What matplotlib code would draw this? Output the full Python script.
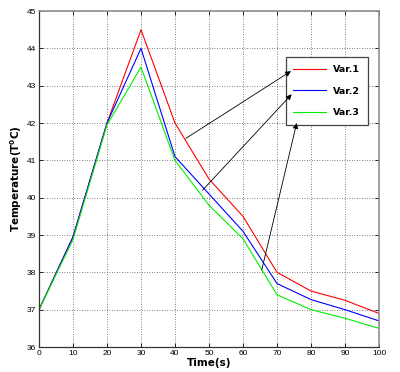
import matplotlib
matplotlib.use("Agg")
import matplotlib.pyplot as plt

time_s = [0, 10, 20, 30, 40, 50, 60, 70, 80, 90, 100]
var1 = [37.0, 38.95, 42.0, 44.5, 42.0, 40.5, 39.5, 38.0, 37.5, 37.25, 36.9]
var2 = [37.0, 38.95, 42.0, 44.0, 41.1, 40.1, 39.1, 37.7, 37.27, 37.0, 36.7]
var3 = [37.0, 38.88, 41.95, 43.5, 41.0, 39.8, 38.9, 37.4, 37.0, 36.77, 36.5]
labels = ["Var.1", "Var.2", "Var.3"]
colors = ["#ff0000", "#0000ff", "#00ee00"]

# arrow start points on the curves -> tips at the legend entries
arrow_from = [(43.2, 41.59), (48.1, 40.2), (65.5, 38.06)]
arrow_to = [(74.1, 43.39), (74.3, 42.77), (75.8, 42.0)]

fig = plt.figure(figsize=(4.0, 3.72), dpi=100)
ax = fig.add_axes([0.0975, 0.0672, 0.85, 0.903])

for y, c, lab in zip([var1, var2, var3], colors, labels):
    ax.plot(time_s, y, color=c, lw=0.8, label=lab)

ax.set_xlim(0, 100)
ax.set_ylim(36, 45)
ax.set_xticks(range(0, 101, 10))
ax.set_yticks(range(36, 46))
ax.tick_params(direction="in", length=3, width=0.6, labelsize=6,
               top=True, right=True, pad=2)
for lbl in ax.get_xticklabels() + ax.get_yticklabels():
    lbl.set_fontfamily("Liberation Sans")
ax.grid(True, ls=(0, (1, 2)), color="#555555", lw=0.6)
for side in ["top", "right"]:
    ax.spines[side].set_color("#909090")
    ax.spines[side].set_linewidth(1.2)
for side in ["left", "bottom"]:
    ax.spines[side].set_color("#333333")
    ax.spines[side].set_linewidth(0.9)

ax.set_xlabel("Time(s)", fontsize=7.5, fontweight="bold", labelpad=1)
ax.set_ylabel(r"Temperature(T$^{\mathbf{0}}$C)", fontsize=7.5,
              fontweight="bold", labelpad=2)

leg = ax.legend(loc="upper left", bbox_to_anchor=(0.726, 0.862),
                borderaxespad=0, fancybox=False, edgecolor="#444444",
                framealpha=1, prop={"weight": "bold", "size": 6.8},
                handlelength=3.5, labelspacing=1.35, borderpad=0.8,
                handletextpad=0.7)
leg.get_frame().set_linewidth(0.9)

# arrows sit above the legend box
for start, tip in zip(arrow_from, arrow_to):
    ax.annotate("", xy=tip, xytext=start, zorder=6,
                arrowprops=dict(arrowstyle="-|>", color="black", lw=0.6,
                                mutation_scale=8, shrinkA=0, shrinkB=0))

fig.savefig("out.png", dpi=100)
